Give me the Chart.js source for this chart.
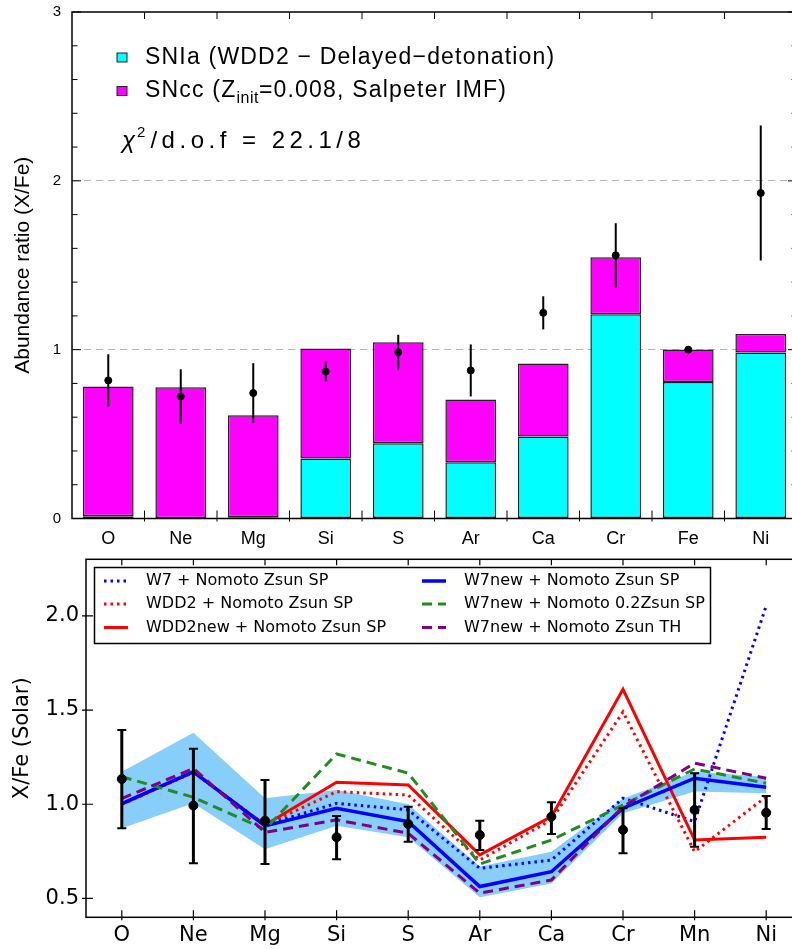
<!DOCTYPE html>
<html>
<head>
<meta charset="utf-8">
<script src="https://cdn.jsdelivr.net/npm/chart.js@4.4.1/dist/chart.umd.min.js"></script>
<style>
  html, body { margin: 0; padding: 0; background: #fff; overflow: hidden; }
  #page { position: relative; width: 792px; height: 949px; overflow: hidden; }
  canvas { position: absolute; left: 0; display: block; }
  #abund { top: 0; }
  #models { top: 550px; }
</style>
</head>
<body>
<div id="page">
  <canvas id="abund" width="812" height="550"></canvas>
  <canvas id="models" width="812" height="399"></canvas>
</div>
<script>
// ---------- Upper panel: X/Fe fit, SNIa + SNcc contributions ----------
const elementsTop = ["O", "Ne", "Mg", "Si", "S", "Ar", "Ca", "Cr", "Fe", "Ni"];
const snIa = [0.013, 0.002, 0.008, 0.356, 0.445, 0.333, 0.486, 1.21, 0.809, 0.983];
const snCC = [0.769, 0.776, 0.604, 0.651, 0.599, 0.372, 0.432, 0.337, 0.192, 0.11];
const obsTop = [0.818, 0.723, 0.743, 0.871, 0.985, 0.877, 1.218, 1.559, 1.0, 1.928];
const obsTopErr = [0.155, 0.161, 0.177, 0.059, 0.103, 0.154, 0.098, 0.19, 0, 0.4];
const topTicks = [0, 0.2, 0.4, 0.6, 0.8, 1, 1.2, 1.4, 1.6, 1.8, 2, 2.2, 2.4, 2.6, 2.8, 3];
const topGrid = [1, 2];
const chi2 = "22.1", dof = "8";

// ---------- Lower panel: model comparison ----------
const elementsBottom = ["O", "Ne", "Mg", "Si", "S", "Ar", "Ca", "Cr", "Mn", "Ni"];
const obsRatio = [1.134, 0.993, 0.913, 0.825, 0.895, 0.837, 0.934, 0.864, 0.97, 0.955];
const obsErrHi = [0.26, 0.301, 0.216, 0.113, 0.092, 0.076, 0.077, 0.115, 0.195, 0.089];
const obsErrLo = [0.261, 0.306, 0.23, 0.117, 0.094, 0.08, 0.092, 0.124, 0.195, 0.086];
const w7 = [1.0, 1.17, 0.89, 1.005, 0.97, 0.66, 0.704, 1.032, 0.908, 2.053];
const wdd2 = [1.0, 1.17, 0.89, 1.067, 1.049, 0.704, 0.917, 1.49, 0.748, 1.04];
const wdd2new = [1.0, 1.17, 0.89, 1.117, 1.102, 0.731, 0.934, 1.61, 0.81, 0.825];
const w7new = [1.003, 1.173, 0.885, 0.979, 0.908, 0.563, 0.642, 0.979, 1.138, 1.09];
const w7new02 = [1.146, 1.037, 0.867, 1.267, 1.165, 0.683, 0.81, 0.996, 1.187, 1.111];
const w7newTH = [1.03, 1.19, 0.851, 0.917, 0.846, 0.528, 0.598, 0.987, 1.218, 1.138];
const bandHi = [1.173, 1.38, 1.032, 1.076, 1.0, 0.669, 0.748, 1.03, 1.173, 1.146];
const bandLo = [0.873, 1.005, 0.761, 0.886, 0.825, 0.506, 0.58, 0.952, 1.067, 1.058];
const bottomTicks = [0.5, 1.0, 1.5, 2.0];

const legendCols = [
  ["W7 + Nomoto Zsun SP", "WDD2 + Nomoto Zsun SP", "WDD2new + Nomoto Zsun SP"],
  ["W7new + Nomoto Zsun SP", "W7new + Nomoto 0.2Zsun SP", "W7new + Nomoto Zsun TH"],
];

const TOP_FONT = "'Liberation Sans', Arial, sans-serif";
const MPL_FONT = "'DejaVu Sans', sans-serif";

// ---------- Plugins ----------
// axes frame with tick marks on all sides
const framePlugin = {
  id: "frame",
  afterDraw(chart, args, o) {
    const { ctx, chartArea: a, scales } = chart;
    const x = scales.x, y = scales.y;
    ctx.save();
    ctx.strokeStyle = "#000";
    ctx.lineWidth = o.width;
    ctx.strokeRect(a.left, a.top, a.right - a.left, a.bottom - a.top);
    ctx.lineWidth = o.tickWidth;
    ctx.beginPath();
    y.ticks.forEach((t) => {
      const py = y.getPixelForValue(t.value);
      const len = o.isMajor(t.value) ? o.yIn : o.yMinor;
      ctx.moveTo(a.left - o.yOut, py);
      ctx.lineTo(a.left + len, py);
      ctx.moveTo(a.right + o.yOut, py);
      ctx.lineTo(a.right - len, py);
    });
    const xs = [];
    if (o.between) {
      for (let i = 1; i < x.ticks.length; i++)
        xs.push((x.getPixelForValue(i - 1) + x.getPixelForValue(i)) / 2);
    } else {
      x.ticks.forEach((t, i) => xs.push(x.getPixelForValue(i)));
    }
    xs.forEach((px) => {
      ctx.moveTo(px, a.bottom + o.xOut);
      ctx.lineTo(px, a.bottom - o.xIn);
      ctx.moveTo(px, a.top);
      ctx.lineTo(px, a.top + o.xTopIn);
    });
    ctx.stroke();
    ctx.restore();
  },
};

// vertical error bars for datasets carrying errPlus / errMinus
const errorBarPlugin = {
  id: "errorBars",
  beforeDatasetDraw(chart, args) {
    const ds = chart.data.datasets[args.index];
    if (!ds.errPlus) return;
    const y = chart.scales[args.meta.yAxisID];
    const ctx = chart.ctx;
    ctx.save();
    ctx.strokeStyle = "#000";
    args.meta.data.forEach((pt, i) => {
      const v = ds.data[i];
      if (!ds.errPlus[i] && !ds.errMinus[i]) return;
      const top = y.getPixelForValue(v + ds.errPlus[i]);
      const bot = y.getPixelForValue(v - ds.errMinus[i]);
      ctx.lineWidth = ds.errWidth;
      ctx.beginPath();
      ctx.moveTo(pt.x, top);
      ctx.lineTo(pt.x, bot);
      ctx.stroke();
      if (ds.errCap) {
        ctx.lineWidth = 2;
        ctx.beginPath();
        ctx.moveTo(pt.x - ds.errCap, top);
        ctx.lineTo(pt.x + ds.errCap, top);
        ctx.moveTo(pt.x - ds.errCap, bot);
        ctx.lineTo(pt.x + ds.errCap, bot);
        ctx.stroke();
      }
    });
    ctx.restore();
  },
};

// legend with subscript and the chi-square note
const topNotesPlugin = {
  id: "topNotes",
  afterDraw(chart) {
    const ctx = chart.ctx;
    const ds = chart.data.datasets;
    const parts = [
      [["SNIa (WDD2 \u2212 Delayed\u2212detonation)", 0]],
      [["SNcc (Z", 0], ["init", 1], ["=0.008, Salpeter IMF)", 0]],
    ];
    const rows = [57.5, 91];
    ctx.save();
    ctx.fillStyle = "#000";
    ctx.textBaseline = "alphabetic";
    rows.forEach((cy, r) => {
      ctx.fillStyle = ds[r].backgroundColor;
      ctx.fillRect(117, cy - 4.5, 10, 9);
      ctx.strokeStyle = "#222";
      ctx.lineWidth = 1;
      ctx.strokeRect(117, cy - 4.5, 10, 9);
      ctx.fillStyle = "#000";
      let x = 145;
      parts[r].forEach(([txt, sub]) => {
        ctx.font = (sub ? "16px " : "23px ") + TOP_FONT;
        ctx.letterSpacing = sub ? "0.5px" : "1.2px";
        ctx.fillText(txt, x, cy + 6 + (sub ? 6 : 0));
        x += ctx.measureText(txt).width;
      });
    });
    // chi^2 / d.o.f
    let x = 122;
    const base = 147.5;
    ctx.letterSpacing = "0px";
    ctx.font = "italic 24px " + TOP_FONT;
    ctx.fillText("\u03c7", x, base);
    x += ctx.measureText("\u03c7").width + 2;
    ctx.font = "15px " + TOP_FONT;
    ctx.fillText("2", x, base - 11);
    x += ctx.measureText("2").width + 5;
    ctx.font = "24px " + TOP_FONT;
    ctx.letterSpacing = "4.5px";
    ctx.fillText("/d.o.f = " + chi2 + "/" + dof, x, base);
    ctx.restore();
  },
};

// two-column legend in a box
const modelLegendPlugin = {
  id: "modelLegend",
  afterDraw(chart) {
    const ctx = chart.ctx;
    const byLabel = {};
    chart.data.datasets.forEach((d) => (byLabel[d.label] = d));
    const box = { x: 94.5, y: 17.5, w: 616, h: 76 };
    const rowY = [31, 54, 77.5];
    const colX = [104, 422];
    ctx.save();
    ctx.fillStyle = "#fff";
    ctx.fillRect(box.x, box.y, box.w, box.h);
    ctx.strokeStyle = "#000";
    ctx.lineWidth = 1.5;
    ctx.strokeRect(box.x, box.y, box.w, box.h);
    ctx.font = "16px " + MPL_FONT;
    ctx.textBaseline = "middle";
    legendCols.forEach((col, c) => {
      col.forEach((label, r) => {
        const d = byLabel[label];
        ctx.strokeStyle = d.borderColor;
        ctx.lineWidth = d.borderWidth;
        ctx.setLineDash(d.borderDash || []);
        ctx.beginPath();
        ctx.moveTo(colX[c], rowY[r]);
        ctx.lineTo(colX[c] + 24, rowY[r]);
        ctx.stroke();
        ctx.setLineDash([]);
        ctx.fillStyle = "#000";
        ctx.fillText(label, colX[c] + 42, rowY[r]);
      });
    });
    ctx.restore();
  },
};

// ---------- Upper chart ----------
new Chart(document.getElementById("abund"), {
  type: "bar",
  data: {
    labels: elementsTop,
    datasets: [
      {
        label: "SNIa (WDD2 \u2212 Delayed\u2212detonation)",
        data: snIa,
        stack: "model",
        backgroundColor: "#00ffff",
        borderColor: "#222",
        borderWidth: 1.5,
        borderSkipped: false,
      },
      {
        label: "SNcc (Zinit=0.008, Salpeter IMF)",
        data: snCC,
        stack: "model",
        backgroundColor: "#ff00ff",
        borderColor: "#222",
        borderWidth: 1.5,
        borderSkipped: false,
      },
      {
        type: "line",
        label: "data",
        data: obsTop,
        errPlus: obsTopErr,
        errMinus: obsTopErr,
        errWidth: 2,
        showLine: false,
        pointRadius: 3.5,
        pointBackgroundColor: "#000",
        pointBorderColor: "#000",
        order: -1,
      },
    ],
  },
  options: {
    responsive: false,
    animation: false,
    devicePixelRatio: 1,
    layout: { padding: { top: 12, right: 15, bottom: 0, left: 0 } },
    datasets: { bar: { barPercentage: 0.7, categoryPercentage: 1 } },
    plugins: {
      legend: { display: false },
      tooltip: { enabled: false },
      frame: {
        width: 1.5, tickWidth: 1, yIn: 9, yMinor: 5.5, yOut: 0,
        xIn: 8, xOut: 3, xTopIn: 7, between: true,
        isMajor: (v) => Number.isInteger(v),
      },
    },
    scales: {
      x: {
        grid: { display: false },
        border: { display: false },
        ticks: { color: "#000", font: { family: TOP_FONT, size: 18 }, padding: 2, autoSkip: false, maxRotation: 0 },
        afterFit(s) {
          s.height = 31.5;
          s.paddingLeft = s.paddingRight = 0;
        },
      },
      y: {
        min: 0,
        max: 3,
        afterBuildTicks(s) {
          s.ticks = topTicks.map((v) => ({ value: v }));
        },
        ticks: {
          color: "#000",
          font: { family: TOP_FONT, size: 15 },
          padding: 11,
          autoSkip: false,
          callback: (v) => (Number.isInteger(v) ? String(v) : ""),
        },
        grid: {
          drawTicks: false,
          lineWidth: 1,
          color: (c) => (c.tick && topGrid.includes(c.tick.value) ? "#b4b4b4" : "rgba(0,0,0,0)"),
        },
        border: { display: false, dash: [7, 5] },
        title: {
          display: true,
          text: "Abundance ratio (X/Fe)",
          color: "#000",
          font: { family: TOP_FONT, size: 21 },
          padding: { top: 11, bottom: 0 },
        },
        afterFit(s) {
          s.width = 72;
          s.paddingTop = s.paddingBottom = 0;
        },
      },
    },
  },
  plugins: [errorBarPlugin, framePlugin, topNotesPlugin],
});

// ---------- Lower chart ----------
const dotted = [2.5, 4];
const dashed = [10, 6];

new Chart(document.getElementById("models"), {
  type: "line",
  data: {
    labels: elementsBottom,
    datasets: [
      {
        label: "data",
        data: obsRatio,
        errPlus: obsErrHi,
        errMinus: obsErrLo,
        errWidth: 3,
        errCap: 4.5,
        showLine: false,
        pointRadius: 4.5,
        pointBackgroundColor: "#000",
        pointBorderColor: "#000",
      },
      { label: "W7new + Nomoto Zsun TH", data: w7newTH, borderColor: "#800080", borderWidth: 3, borderDash: dashed },
      { label: "W7new + Nomoto 0.2Zsun SP", data: w7new02, borderColor: "#228b22", borderWidth: 3, borderDash: dashed },
      { label: "W7new + Nomoto Zsun SP", data: w7new, borderColor: "#0000ff", borderWidth: 3.5 },
      { label: "WDD2new + Nomoto Zsun SP", data: wdd2new, borderColor: "#ff0000", borderWidth: 3 },
      { label: "WDD2 + Nomoto Zsun SP", data: wdd2, borderColor: "#ff0000", borderWidth: 3, borderDash: dotted },
      { label: "W7 + Nomoto Zsun SP", data: w7, borderColor: "#0000ff", borderWidth: 3, borderDash: dotted },
      { label: "band", data: bandHi, fill: "+1", backgroundColor: "#87cefa", borderColor: "rgba(0,0,0,0)", borderWidth: 1 },
      { label: "band low", data: bandLo, fill: false, borderColor: "rgba(0,0,0,0)", borderWidth: 1 },
    ],
  },
  options: {
    responsive: false,
    animation: false,
    devicePixelRatio: 1,
    layout: { padding: { top: 9.3, right: 10, bottom: 0, left: 0 } },
    elements: { point: { radius: 0 }, line: { tension: 0, borderCapStyle: "butt" } },
    plugins: {
      legend: { display: false },
      tooltip: { enabled: false },
      frame: {
        width: 1.5, tickWidth: 1.2, yIn: 7, yMinor: 7, yOut: 4,
        xIn: 7, xOut: 3, xTopIn: 6, between: false,
        isMajor: () => true,
      },
    },
    scales: {
      x: {
        offset: true,
        grid: { display: false },
        border: { display: false },
        ticks: { color: "#000", font: { family: MPL_FONT, size: 21 }, padding: -2, autoSkip: false, maxRotation: 0 },
        afterFit(s) {
          s.height = 31.7;
          s.paddingLeft = s.paddingRight = 0;
        },
      },
      y: {
        min: 0.4,
        max: 2.3,
        afterBuildTicks(s) {
          s.ticks = bottomTicks.map((v) => ({ value: v }));
        },
        ticks: {
          color: "#000",
          font: { family: MPL_FONT, size: 21 },
          padding: 7,
          callback: (v) => v.toFixed(1),
        },
        grid: { display: false, drawTicks: false },
        border: { display: false },
        title: {
          display: true,
          text: "X/Fe (Solar)",
          color: "#000",
          font: { family: MPL_FONT, size: 21 },
          padding: { top: 10, bottom: 0 },
        },
        afterFit(s) {
          s.width = 86;
          s.paddingTop = s.paddingBottom = 0;
        },
      },
    },
  },
  plugins: [errorBarPlugin, framePlugin, modelLegendPlugin],
});
</script>
</body>
</html>
